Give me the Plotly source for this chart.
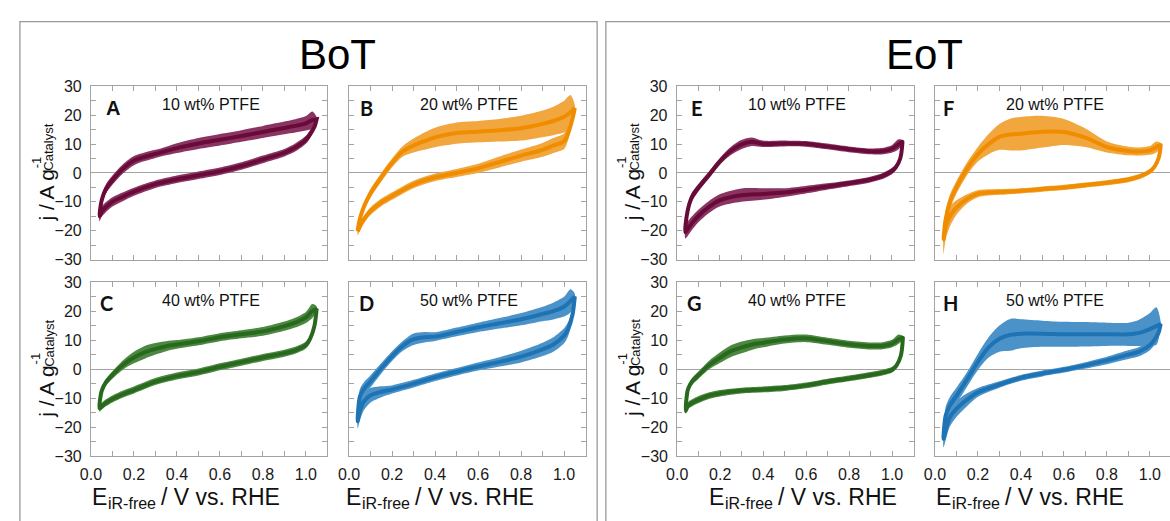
import plotly.graph_objects as go

# ---------------- data ----------------
E_ANOD = [0.04, 0.05, 0.07, 0.10, 0.15, 0.20, 0.25, 0.30, 0.35, 0.40, 0.50,
          0.60, 0.70, 0.80, 0.90, 0.95, 1.00, 1.03, 1.05]
E_CATH = [1.05, 1.04, 1.02, 1.00, 0.95, 0.90, 0.80, 0.70, 0.60, 0.50, 0.40,
          0.30, 0.20, 0.15, 0.10, 0.07, 0.05, 0.04]

PANEL_LETTERS = ["A", "B", "C", "D", "E", "F", "G", "H"]
PANEL_LABELS = ["10 wt% PTFE", "20 wt% PTFE", "40 wt% PTFE", "50 wt% PTFE",
                "10 wt% PTFE", "20 wt% PTFE", "40 wt% PTFE", "50 wt% PTFE"]
GROUP_TITLES = ["BoT", "EoT"]
Y_TITLE_MAIN = "j / A g"
Y_TITLE_SUP = "-1"
Y_TITLE_SUB = "Catalyst"
X_TITLE_MAIN = "E"
X_TITLE_SUB = "iR-free"
X_TITLE_REST = "/ V vs. RHE"

A_anod_j = [-15, -9.5, -5.5, -2.5, 1.5, 4.3, 5.6, 6.6, 7.6, 8.6, 10.2, 11.5, 12.8, 14.2, 15.6, 16.3, 17.2, 18.3, 18.6]
A_anod_sd = [1.8, 1.7, 1.6, 1.6, 1.6, 1.6, 1.5, 1.4, 1.5, 1.7, 1.9, 2.0, 2.0, 2.1, 2.2, 2.3, 2.5, 3.0, 0.8]
A_cath_j = [18.6, 16, 13.5, 11.5, 8.8, 7.0, 4.7, 2.4, 0.6, -0.8, -2.2, -3.9, -6.5, -8.2, -10, -11.8, -13.4, -15]
A_cath_sd = [0.8, 1.2, 1.4, 1.4, 1.4, 1.3, 1.3, 1.3, 1.3, 1.3, 1.3, 1.3, 1.4, 1.5, 1.6, 1.7, 1.8, 1.8]

B_anod_j = [-20, -16, -11.5, -7, -1.5, 3.5, 7.5, 9.5, 11, 12.3, 13.8, 14.3, 14.8, 15.5, 17, 18, 19.5, 21, 22.5]
B_anod_sd = [1.4, 1.4, 1.4, 1.5, 1.5, 1.5, 1.8, 2.4, 3.0, 3.4, 3.7, 3.7, 3.9, 4.3, 4.6, 4.9, 5.5, 6.0, 1.0]
B_cath_j = [22.5, 19, 14, 11, 9.5, 8, 6, 3.8, 1.6, 0, -1.5, -4, -8, -10.2, -13.2, -16, -18.6, -20.3]
B_cath_sd = [1.0, 1.6, 2.4, 2.7, 2.6, 2.4, 2.1, 1.9, 1.6, 1.4, 1.3, 1.3, 1.3, 1.3, 1.3, 1.3, 1.3, 1.3]

C_anod_j = [-13.5, -7.5, -4.5, -2, 1.5, 4, 5.8, 7.0, 7.9, 8.5, 9.6, 11, 12, 13, 14.8, 16, 17.8, 20, 20.8]
C_anod_sd = [1.2, 1.2, 1.2, 1.3, 1.6, 2.0, 2.2, 2.0, 1.7, 1.5, 1.4, 1.4, 1.4, 1.5, 1.6, 1.7, 1.9, 2.4, 0.8]
C_cath_j = [20.8, 15, 10.5, 8.3, 6.5, 5.5, 4.0, 2.4, 0.8, -1.0, -2.4, -4.3, -7.2, -8.6, -10.3, -11.6, -12.8, -13.5]
C_cath_sd = [0.8, 1.1, 1.2, 1.2, 1.2, 1.2, 1.2, 1.2, 1.2, 1.2, 1.2, 1.2, 1.2, 1.2, 1.2, 1.2, 1.2, 1.2]

D_anod_j = [-18, -9.5, -6.7, -4.2, 0.3, 4.5, 8, 10.3, 11, 11.2, 12.8, 14.4, 15.8, 17.2, 19, 20, 21.5, 23.5, 25]
D_anod_sd = [2.6, 2.6, 2.3, 2.1, 1.8, 1.7, 1.7, 2.0, 1.8, 1.5, 1.5, 1.6, 1.8, 2.1, 2.5, 2.9, 3.4, 4.0, 1.0]
D_cath_j = [25, 19, 14, 11.5, 8.5, 6.8, 4.3, 2.5, 0.9, -0.9, -2.8, -5, -7, -7.8, -9, -11, -14.5, -18]
D_cath_sd = [1.0, 1.8, 2.4, 2.6, 2.5, 2.3, 2.0, 1.6, 1.4, 1.3, 1.3, 1.3, 1.4, 1.9, 2.5, 3.0, 3.2, 2.5]

E_anod_j = [-20.5, -13.5, -8.5, -5.2, -0.7, 3.9, 7.5, 9.8, 10.8, 10.1, 10.2, 10.1, 9.2, 8.2, 7.5, 7.5, 8.3, 9.8, 10.8]
E_anod_sd = [1.8, 1.8, 1.6, 1.3, 1.2, 1.2, 1.4, 1.6, 1.5, 1.1, 1.0, 1.0, 1.0, 1.0, 1.0, 1.1, 1.3, 1.8, 0.6]
E_cath_j = [10.5, 5, 2, 0.6, -1.3, -2.3, -3.6, -4.7, -5.8, -6.8, -7.3, -7.7, -9.5, -11.8, -15, -17.5, -19.5, -20.5]
E_cath_sd = [0.6, 1.0, 1.1, 1.1, 1.0, 1.0, 1.0, 1.1, 1.3, 1.5, 2.0, 2.3, 2.1, 2.1, 2.2, 2.4, 2.5, 2.2]

F_anod_j = [-23, -16, -10, -5, 1.5, 6.5, 10, 12.5, 13.3, 13.6, 14.3, 14.2, 12.2, 9, 7.6, 7.4, 7.8, 9, 9.7]
F_anod_sd = [4.0, 3.0, 2.5, 2.2, 2.2, 2.5, 3.5, 4.5, 5.5, 5.8, 5.5, 4.5, 3.2, 1.9, 1.5, 1.4, 1.5, 1.9, 0.7]
F_cath_j = [9.5, 5, 2, 0.5, -1.3, -2.3, -3.4, -4.2, -5, -5.6, -6.2, -6.6, -7.2, -9, -12, -15, -18.5, -23]
F_cath_sd = [0.7, 0.9, 0.9, 0.9, 0.9, 0.9, 0.9, 0.9, 0.9, 0.9, 0.9, 1.0, 1.2, 1.6, 2.5, 3.5, 4.5, 5.0]

G_anod_j = [-14.4, -7, -4.2, -2, 1.5, 4, 6.2, 7.5, 8.5, 9.1, 10.2, 10.6, 9.6, 8.6, 8, 8, 8.8, 10.3, 10.8]
G_anod_sd = [1.0, 1.1, 1.2, 1.3, 1.5, 1.8, 2.0, 2.0, 1.8, 1.6, 1.4, 1.3, 1.2, 1.2, 1.2, 1.2, 1.3, 1.6, 0.6]
G_cath_j = [10.6, 4.5, 1.2, -0.2, -1.3, -2, -3.2, -4.3, -5.6, -6.5, -7, -7.4, -8.3, -9.1, -10.5, -11.6, -12.6, -14.4]
G_cath_sd = [0.6, 1.0, 1.0, 1.0, 1.0, 1.0, 1.0, 1.0, 1.0, 1.0, 1.0, 1.0, 1.1, 1.1, 1.2, 1.2, 1.2, 1.0]

H_anod_j = [-24, -16, -12.5, -9.2, -3.5, 2.5, 7.5, 10.5, 11.8, 12.2, 12.2, 12, 12, 12, 12, 12.5, 13.8, 14.8, 15.5]
H_anod_sd = [3.0, 3.0, 3.0, 2.8, 2.5, 2.8, 3.5, 4.5, 5.5, 5.0, 4.5, 4.3, 4.2, 4.0, 4.0, 4.5, 5.5, 6.5, 1.0]
H_cath_j = [15.5, 12.5, 10, 8.3, 6, 5, 3, 1.3, -0.2, -1.5, -3, -5.3, -8, -10.5, -13.7, -16.5, -21, -24]
H_cath_sd = [1.0, 1.5, 1.8, 1.8, 1.6, 1.5, 1.3, 1.1, 1.0, 1.0, 1.0, 1.1, 1.5, 2.2, 2.8, 3.2, 3.5, 3.0]

SERIES = {
    "A": (A_anod_j, A_anod_sd, A_cath_j, A_cath_sd),
    "B": (B_anod_j, B_anod_sd, B_cath_j, B_cath_sd),
    "C": (C_anod_j, C_anod_sd, C_cath_j, C_cath_sd),
    "D": (D_anod_j, D_anod_sd, D_cath_j, D_cath_sd),
    "E": (E_anod_j, E_anod_sd, E_cath_j, E_cath_sd),
    "F": (F_anod_j, F_anod_sd, F_cath_j, F_cath_sd),
    "G": (G_anod_j, G_anod_sd, G_cath_j, G_cath_sd),
    "H": (H_anod_j, H_anod_sd, H_cath_j, H_cath_sd),
}

# ---------------- styles / layout ----------------
W, H = 1170, 521
PX_PER_V = 217.0
LINE_COLORS = {"A": "#690b38", "E": "#690b38", "B": "#f08c00", "F": "#f08c00",
               "C": "#28691e", "G": "#28691e", "D": "#1e73b4", "H": "#1e73b4"}
BAND_COLORS = {"A": "#8a3464", "E": "#8a3464", "B": "#f2a63e", "F": "#f2a63e",
               "C": "#4c8841", "G": "#4c8841", "D": "#4b92c8", "H": "#4b92c8"}
# pixel boxes: left, right, top, bottom
GEOM = {
    "A": (80.7, 319.3, 81.0, 260.0), "B": (341.3, 580.7, 81.0, 260.0),
    "C": (80.7, 319.3, 283.3, 463.3), "D": (341.3, 580.7, 283.3, 463.3),
    "E": (672.0, 911.7, 81.0, 260.0), "F": (932.7, 1170.0, 81.0, 260.0),
    "G": (672.5, 911.7, 283.3, 463.3), "H": (932.7, 1170.0, 283.3, 463.3),
}
LETTER_DX = {"A": 14, "B": 10, "C": 8, "D": 9, "E": 13, "F": 7, "G": 9, "H": 7}
XTITLE_X0 = {"C": 0, "D": -4, "G": 31, "H": 0}   # start of x title, from left spine
AXIS_GRAY = "#a3a3a3"
FONT = "Liberation Sans, Arial, sans-serif"


def pxx(x):
    return x / W


def pyy(y):
    return 1 - y / H


fig = go.Figure()
layout = {}
annotations = []


def add_text(text, x, y, size, family=FONT, angle=0, xanchor="center",
             color="#111", weight="normal"):
    annotations.append(dict(
        text=text, x=pxx(x), y=pyy(y), xref="paper", yref="paper",
        xanchor=xanchor, yanchor="middle", showarrow=False, textangle=angle,
        borderpad=0, font=dict(family=family, size=size, color=color, weight=weight)))


for i, key in enumerate(PANEL_LETTERS):
    n = "" if i == 0 else str(i + 1)
    xa, ya = "x" + n, "y" + n
    left, right, top, bottom = GEOM[key]
    aj, asd, cj, csd = SERIES[key]

    for xs, js, sds in ((E_ANOD, aj, asd), (E_CATH, cj, csd)):
        upper = [j + s for j, s in zip(js, sds)]
        lower = [j - s for j, s in zip(js, sds)]
        fig.add_trace(go.Scatter(
            x=list(xs) + list(xs)[::-1], y=upper + lower[::-1],
            xaxis=xa, yaxis=ya, mode="lines", fill="toself",
            fillcolor=BAND_COLORS[key], line=dict(width=0, shape="spline", smoothing=0.8),
            hoverinfo="skip", showlegend=False))
    fig.add_trace(go.Scatter(
        x=list(E_ANOD) + list(E_CATH), y=list(aj) + list(cj),
        xaxis=xa, yaxis=ya, mode="lines",
        line=dict(color=LINE_COLORS[key], width=4, shape="spline", smoothing=0.8),
        showlegend=False))

    bottom_row = key in ("C", "D", "G", "H")
    left_col = key in ("A", "C", "E", "G")
    right_edge = key in ("F", "H")

    layout["xaxis" + n] = dict(
        domain=[pxx(left), pxx(right)], anchor=ya,
        range=[0, (right - left) / PX_PER_V],
        tick0=0, dtick=0.2, tickformat=".1f",
        ticks="inside", ticklen=5, tickcolor=AXIS_GRAY,
        minor=dict(dtick=0.1, ticks="inside", ticklen=5, tickcolor=AXIS_GRAY),
        showline=True, linecolor=AXIS_GRAY, linewidth=1, mirror="ticks",
        showgrid=False, zeroline=False, showticklabels=bottom_row,
        ticklabelstandoff=4,
        tickfont=dict(family=FONT, size=16, color="#1a1a1a"))
    layout["yaxis" + n] = dict(
        domain=[pyy(bottom), pyy(top)], anchor=xa,
        range=[-30, 30], tick0=0, dtick=10,
        ticks="inside", ticklen=5, tickcolor=AXIS_GRAY,
        minor=dict(dtick=5, ticks="inside", ticklen=5, tickcolor=AXIS_GRAY),
        showline=True, linecolor=AXIS_GRAY, linewidth=1,
        mirror=False if right_edge else "ticks",
        showgrid=False, zeroline=True, zerolinecolor=AXIS_GRAY, zerolinewidth=1,
        showticklabels=left_col, ticklabelstandoff=5,
        tickfont=dict(family=FONT, size=16, color="#1a1a1a"))

    # panel letter and composition label
    add_text(key, left + LETTER_DX[key], top + 22, 20,
             family=("Liberation Sans, Arial" if key == "A" else "Lato, sans-serif"),
             xanchor="left", weight="bold")
    add_text(PANEL_LABELS[i], left + 121, top + 19, 16)

    if left_col:
        cy = (top + bottom) / 2
        # y title with stacked super/subscript (as in the reference)
        add_text(Y_TITLE_MAIN, left - 45, cy + 23, 21, angle=-90)
        add_text(Y_TITLE_SUP, left - 55.5, cy - 11, 13, angle=-90)
        add_text(Y_TITLE_SUB, left - 42.5, cy - 27, 13, angle=-90)
    if bottom_row:
        x0 = left + XTITLE_X0[key]
        add_text(X_TITLE_MAIN, x0, 505, 23, xanchor="left")
        add_text(X_TITLE_SUB, x0 + 16, 512, 16, xanchor="left")
        add_text(X_TITLE_REST, x0 + 70, 505, 23, xanchor="left")

for title, cx in zip(GROUP_TITLES, (330, 922)):
    add_text(title, cx, 48, 42, color="#000")

shapes = [
    dict(type="rect", xref="paper", yref="paper", x0=pxx(9), x1=pxx(591.7),
         y0=pyy(540), y1=pyy(14), line=dict(color="#9a9a9a", width=1.3)),
    dict(type="rect", xref="paper", yref="paper", x0=pxx(600.5), x1=pxx(1190),
         y0=pyy(540), y1=pyy(14), line=dict(color="#9a9a9a", width=1.3)),
]

fig.update_layout(
    width=W, height=H, margin=dict(l=0, r=0, t=0, b=0),
    paper_bgcolor="white", plot_bgcolor="white",
    annotations=annotations, shapes=shapes, showlegend=False,
    **layout)

fig.write_html(
    "out.html",
    post_script="document.body.style.margin='0';document.body.style.overflow='hidden';")
